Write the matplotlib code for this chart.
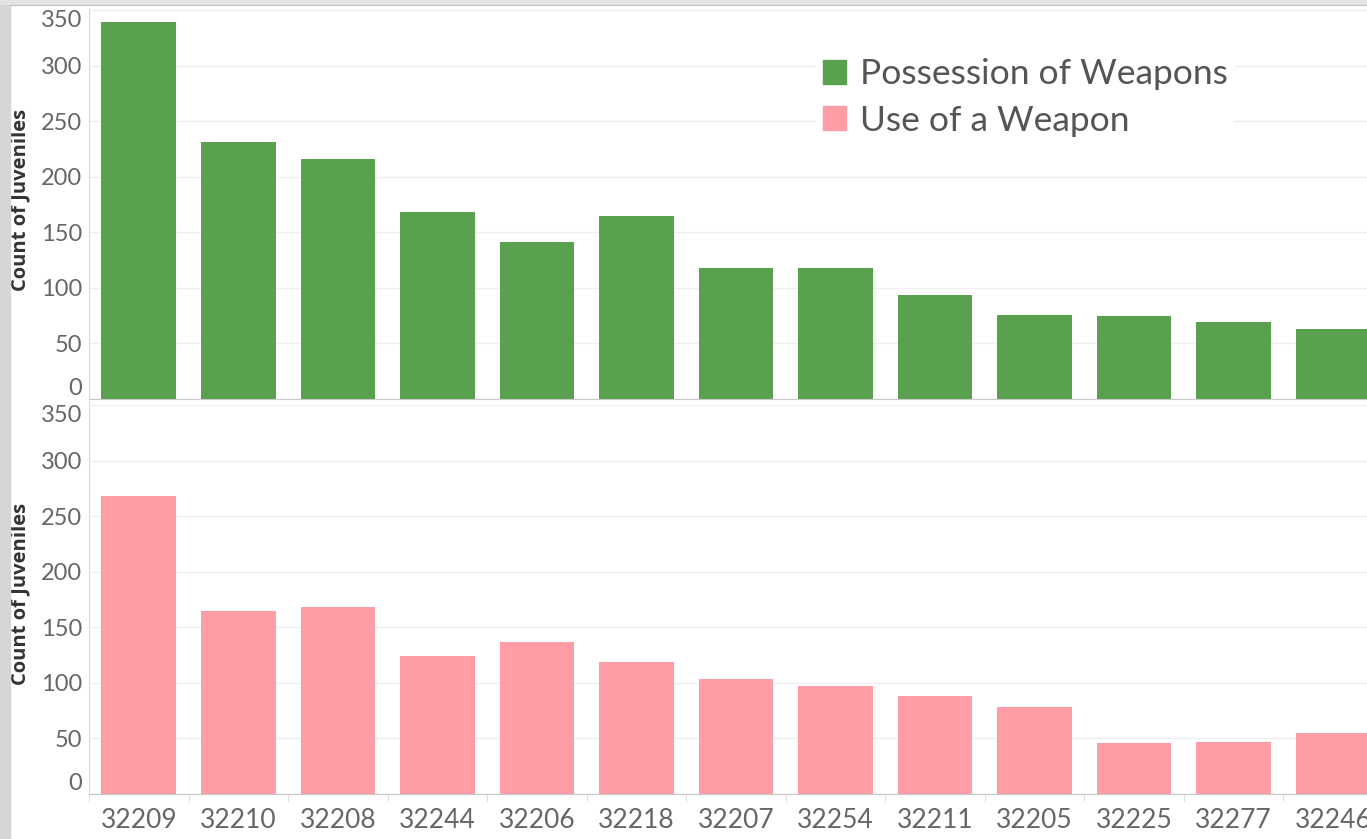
import matplotlib.pyplot as plt
import numpy as np
from matplotlib.patches import Rectangle

zips = ['32209', '32210', '32208', '32244', '32206', '32218', '32207',
        '32254', '32211', '32205', '32225', '32277', '32246']
possession = [339, 231, 216, 168, 141, 165, 118, 118, 94, 76, 75, 69, 63]
use_weapon = [268, 165, 168, 124, 137, 119, 104, 97, 88, 78, 46, 47, 55]
yticks = [0, 50, 100, 150, 200, 250, 300, 350]

green = '#59a14f'
pink = '#ff9da7'
tick_col = '#666666'

plt.rcParams['font.family'] = ['Lato', 'DejaVu Sans']

fig = plt.figure(figsize=(13.67, 8.39), dpi=100)
fig.patch.set_facecolor('white')
# grey strip at the left and top edge of the screenshot
fig.patches.append(Rectangle((0, 0), 10 / 1367, 1, transform=fig.transFigure,
                             color='#d6d6d6', zorder=0))
fig.patches.append(Rectangle((0, 1 - 4 / 839), 1, 4 / 839, transform=fig.transFigure,
                             color='#e4e4e4', zorder=0))
fig.add_artist(plt.Line2D([10 / 1367, 1], [1 - 5 / 839] * 2, transform=fig.transFigure,
                          color='#c8c8c8', lw=1))

L = 89 / 1367
ax1 = fig.add_axes([L, 1 - 399 / 839, 1 - L, 391 / 839])
ax2 = fig.add_axes([L, 1 - 794 / 839, 1 - L, 393 / 839])

x = np.arange(len(zips))
ax1.set_xticks([])
ax2.set_xticks(x)
ax2.set_xticklabels(zips)
ax2.set_xticks(np.arange(-0.5, 13, 1), minor=True)
ax2.tick_params(axis='x', which='major', length=0, labelsize=19, labelcolor=tick_col, pad=10)
ax2.tick_params(axis='x', which='minor', length=6, color='#d9d9d9')

for ax, vals, col, top in [(ax1, possession, green, 352), (ax2, use_weapon, pink, 354)]:
    ax.bar(x, vals, width=0.75, color=col, zorder=2)
    ax.set_xlim(-0.5, 12.34)
    ax.set_ylim(0, top)
    ax.set_yticks(yticks)
    ax.grid(axis='y', color='#efefef', lw=1, zorder=0)
    ax.tick_params(axis='y', length=0, labelsize=17, labelcolor=tick_col, pad=5)
    for s in ['top', 'right']:
        ax.spines[s].set_visible(False)
    ax.spines['left'].set_color('#d9d9d9')
    ax.spines['bottom'].set_color('#c8c8c8')
    labs = ax.get_yticklabels()
    labs[0].set_va('bottom')
    labs[-1].set_va('top')
    ax.set_ylabel('Count of Juveniles', fontsize=14.5, fontweight='bold', color='#333333',
                  family=['Open Sans', 'DejaVu Sans'])
    ax.yaxis.set_label_coords(-0.0455, 0.51)

handles = [Rectangle((0, 0), 1, 1, color=green), Rectangle((0, 0), 1, 1, color=pink)]
leg = ax1.legend(handles, ['Possession of Weapons', 'Use of a Weapon'],
                 loc='upper left', bbox_to_anchor=(0.556, 0.93), frameon=True,
                 fontsize=25.5, handlelength=0.65, handleheight=0.65, handletextpad=0.4,
                 labelspacing=0.4, borderpad=0.15, labelcolor='#555555')
leg.get_frame().set_facecolor('white')
leg.get_frame().set_edgecolor('white')
leg.get_frame().set_alpha(1)

fig.savefig('out.png', dpi=100)
